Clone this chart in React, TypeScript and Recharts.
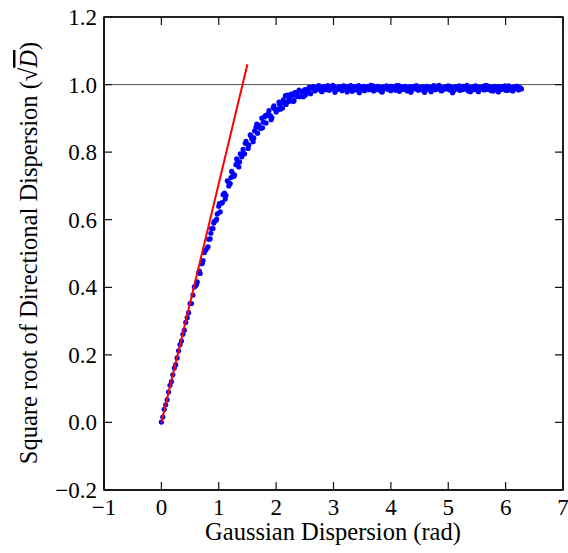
import React from "react";
import { ScatterChart, Scatter, XAxis, YAxis, ReferenceLine } from "recharts";

// Gaussian dispersion (rad) vs sqrt of directional dispersion
const riseSigma = [
  0.0, 0.025, 0.05, 0.075, 0.1, 0.125, 0.15, 0.175, 0.2, 0.225,
  0.25, 0.275, 0.3, 0.325, 0.35, 0.375, 0.4, 0.425, 0.45, 0.475,
  0.5, 0.525, 0.55, 0.575, 0.6, 0.625, 0.65, 0.675, 0.7, 0.725,
  0.75, 0.775, 0.8, 0.825, 0.85, 0.875, 0.9, 0.925, 0.95, 0.975,
  1.0, 1.025, 1.05, 1.075, 1.1, 1.125, 1.15, 1.175, 1.2, 1.225,
  1.25, 1.275, 1.3, 1.325, 1.35, 1.375, 1.4, 1.425, 1.45, 1.475,
  1.5, 1.525, 1.55, 1.575, 1.6, 1.625, 1.65, 1.675, 1.7, 1.725,
  1.75, 1.775, 1.8, 1.825, 1.85, 1.875, 1.9, 1.925, 1.95, 1.975,
  2.0, 2.025, 2.05, 2.075, 2.1, 2.125, 2.15, 2.175, 2.2, 2.225,
  2.25, 2.275, 2.3, 2.325, 2.35, 2.375, 2.4, 2.425, 2.45, 2.475,
  2.5, 2.525, 2.55, 2.575, 2.6,
];
const riseRootD = [
  0.001, 0.016, 0.039, 0.052, 0.067, 0.09, 0.11, 0.121, 0.141, 0.161,
  0.171, 0.191, 0.212, 0.23, 0.241, 0.261, 0.273, 0.296, 0.31, 0.325,
  0.352, 0.352, 0.377, 0.401, 0.405, 0.416, 0.443, 0.441, 0.47, 0.479,
  0.503, 0.51, 0.517, 0.542, 0.543, 0.574, 0.574, 0.595, 0.598, 0.617,
  0.64, 0.623, 0.649, 0.674, 0.679, 0.672, 0.715, 0.7, 0.707, 0.743,
  0.736, 0.732, 0.763, 0.768, 0.756, 0.795, 0.786, 0.808, 0.795, 0.832,
  0.823, 0.821, 0.851, 0.84, 0.831, 0.863, 0.874, 0.856, 0.879, 0.87,
  0.901, 0.889, 0.904, 0.886, 0.908, 0.923, 0.908, 0.902, 0.932, 0.928,
  0.919, 0.927, 0.948, 0.927, 0.947, 0.955, 0.947, 0.941, 0.969, 0.958,
  0.952, 0.968, 0.95, 0.976, 0.968, 0.965, 0.984, 0.965, 0.978, 0.964,
  0.985, 0.982, 0.977, 0.992, 0.973,
];

// second pass of samples in between, where the cloud is wider
const riseExtraSigma = [
  0.6125, 0.6625, 0.7125, 0.7625, 0.8125, 0.8625, 0.9125, 0.9625, 1.0125, 1.0625,
  1.1125, 1.1625, 1.2125, 1.2625, 1.3125, 1.3625, 1.4125, 1.4625, 1.5125, 1.5625,
  1.6125, 1.6625, 1.7125, 1.7625, 1.8125, 1.8625, 1.9125, 1.9625, 2.0125, 2.0625,
  2.1125, 2.1625, 2.2125, 2.2625, 2.3125, 2.3625, 2.4125, 2.4625, 2.5125, 2.5625,
];
const riseExtraRootD = [
  0.408, 0.448, 0.471, 0.51, 0.52, 0.56, 0.59, 0.602, 0.648, 0.651,
  0.661, 0.713, 0.725, 0.728, 0.78, 0.771, 0.793, 0.826, 0.811, 0.848,
  0.842, 0.883, 0.873, 0.872, 0.908, 0.913, 0.896, 0.937, 0.923, 0.941,
  0.931, 0.967, 0.95, 0.972, 0.953, 0.976, 0.964, 0.98, 0.969, 0.987,
];

const plateauSigma = [
  2.625, 2.65, 2.675, 2.7, 2.725, 2.75, 2.775, 2.8, 2.825, 2.85,
  2.875, 2.9, 2.925, 2.95, 2.975, 3.0, 3.025, 3.05, 3.075, 3.1,
  3.125, 3.15, 3.175, 3.2, 3.225, 3.25, 3.275, 3.3, 3.325, 3.35,
  3.375, 3.4, 3.425, 3.45, 3.475, 3.5, 3.525, 3.55, 3.575, 3.6,
  3.625, 3.65, 3.675, 3.7, 3.725, 3.75, 3.775, 3.8, 3.825, 3.85,
  3.875, 3.9, 3.925, 3.95, 3.975, 4.0, 4.025, 4.05, 4.075, 4.1,
  4.125, 4.15, 4.175, 4.2, 4.225, 4.25, 4.275, 4.3, 4.325, 4.35,
  4.375, 4.4, 4.425, 4.45, 4.475, 4.5, 4.525, 4.55, 4.575, 4.6,
  4.625, 4.65, 4.675, 4.7, 4.725, 4.75, 4.775, 4.8, 4.825, 4.85,
  4.875, 4.9, 4.925, 4.95, 4.975, 5.0, 5.025, 5.05, 5.075, 5.1,
  5.125, 5.15, 5.175, 5.2, 5.225, 5.25, 5.275, 5.3, 5.325, 5.35,
  5.375, 5.4, 5.425, 5.45, 5.475, 5.5, 5.525, 5.55, 5.575, 5.6,
  5.625, 5.65, 5.675, 5.7, 5.725, 5.75, 5.775, 5.8, 5.825, 5.85,
  5.875, 5.9, 5.925, 5.95, 5.975, 6.0, 6.025, 6.05, 6.075, 6.1,
  6.125, 6.15, 6.175, 6.2, 6.225, 6.25, 6.275,
];
const plateauRootD = [
  0.989, 0.994, 0.981, 0.991, 0.986, 0.996, 0.988, 0.979, 0.993, 0.99,
  0.985, 0.997, 0.983, 0.992, 0.988, 0.995, 0.977, 0.99, 0.986, 0.994,
  0.991, 0.982, 0.996, 0.987, 0.993, 0.984, 0.99, 0.997, 0.98, 0.989,
  0.994, 0.986, 0.992, 0.976, 0.991, 0.988, 0.995, 0.983, 0.99, 0.993,
  0.985, 0.998, 0.987, 0.981, 0.992, 0.989, 0.995, 0.984, 0.991, 0.978,
  0.993, 0.988, 0.996, 0.986, 0.99, 0.982, 0.994, 0.989, 0.985, 0.997,
  0.991, 0.98, 0.988, 0.993, 0.986, 0.995, 0.983, 0.99, 0.992, 0.977,
  0.989, 0.994, 0.987, 0.996, 0.984, 0.991, 0.988, 0.993, 0.981, 0.99,
  0.995, 0.986, 0.992, 0.979, 0.989, 0.997, 0.985, 0.991, 0.988, 0.994,
  0.982, 0.99, 0.986, 0.993, 0.989, 0.996, 0.984, 0.991, 0.976, 0.988,
  0.994, 0.987, 0.992, 0.983, 0.99, 0.995, 0.986, 0.989, 0.998, 0.981,
  0.991, 0.988, 0.993, 0.985, 0.996, 0.99, 0.979, 0.992, 0.987, 0.994,
  0.984, 0.99, 0.997, 0.986, 0.991, 0.982, 0.989, 0.995, 0.988, 0.993,
  0.978, 0.99, 0.986, 0.994, 0.989, 0.983, 0.992, 0.996, 0.985, 0.99,
  0.981, 0.993, 0.988, 0.995, 0.984, 0.991, 0.987,
];

const plateauExtraSigma = [
  2.6375, 2.6875, 2.7375, 2.7875, 2.8375, 2.8875, 2.9375, 2.9875, 3.0375, 3.0875,
  3.1375, 3.1875, 3.2375, 3.2875, 3.3375, 3.3875, 3.4375, 3.4875, 3.5375, 3.5875,
  3.6375, 3.6875, 3.7375, 3.7875, 3.8375, 3.8875, 3.9375, 3.9875, 4.0375, 4.0875,
  4.1375, 4.1875, 4.2375, 4.2875, 4.3375, 4.3875, 4.4375, 4.4875, 4.5375, 4.5875,
  4.6375, 4.6875, 4.7375, 4.7875, 4.8375, 4.8875, 4.9375, 4.9875, 5.0375, 5.0875,
  5.1375, 5.1875, 5.2375, 5.2875, 5.3375, 5.3875, 5.4375, 5.4875, 5.5375, 5.5875,
  5.6375, 5.6875, 5.7375, 5.7875, 5.8375, 5.8875, 5.9375, 5.9875, 6.0375, 6.0875,
  6.1375, 6.1875, 6.2375,
];
const plateauExtraRootD = [
  0.992, 0.985, 0.996, 0.98, 0.989, 0.994, 0.987, 0.998, 0.983, 0.991,
  0.986, 0.995, 0.978, 0.99, 0.993, 0.984, 0.997, 0.988, 0.982, 0.994,
  0.989, 0.996, 0.985, 0.991, 0.979, 0.993, 0.987, 0.995, 0.99, 0.983,
  0.997, 0.986, 0.992, 0.981, 0.994, 0.988, 0.996, 0.984, 0.99, 0.977,
  0.993, 0.989, 0.995, 0.986, 0.998, 0.982, 0.991, 0.987, 0.994, 0.98,
  0.992, 0.996, 0.985, 0.99, 0.993, 0.979, 0.988, 0.995, 0.984, 0.991,
  0.997, 0.986, 0.993, 0.981, 0.989, 0.994, 0.987, 0.996, 0.983, 0.991,
  0.988, 0.995, 0.99,
];

// small-angle linear approximation (red line)
const fitSigma = [0, 1.5];
const fitRootD = [0, 1.06];

const xTicks = [-1, 0, 1, 2, 3, 4, 5, 6, 7];
const yTicks = [-0.2, 0, 0.2, 0.4, 0.6, 0.8, 1.0, 1.2];
const X_DOMAIN: [number, number] = [-1, 7];
const Y_DOMAIN: [number, number] = [-0.2, 1.2];

const zip = (xs: number[], ys: number[]) => xs.map((x, i) => ({ x, y: ys[i] }));
const samples = [
  ...zip(riseSigma, riseRootD),
  ...zip(riseExtraSigma, riseExtraRootD),
  ...zip(plateauSigma, plateauRootD),
  ...zip(plateauExtraSigma, plateauExtraRootD),
];
const fitLine = zip(fitSigma, fitRootD);

const FONT = "Liberation Serif";
const TICK_FONT = 23;
const LABEL_FONT = 24.5;
const TICK_LEN = 8;
const INK = "#161616";
// plot box in pixels (set by the margins/axis sizes below)
const W = 568;
const H = 553;
const PLOT_TOP = 17;
const PLOT_BOTTOM = 490;
const PLOT_LEFT = 104;
const PLOT_RIGHT = 563;

const minus = (s: string) => s.replace("-", "\u2212");

// tick marks point inwards on all four sides, matplotlib style
const BottomTick = (p: any) => (
  <g>
    <path d={`M${p.x},${PLOT_BOTTOM}v${-TICK_LEN}M${p.x},${PLOT_TOP}v${TICK_LEN}`} stroke={INK} strokeWidth={1.2} />
    <text x={p.x} y={PLOT_BOTTOM + 25} textAnchor="middle" fontFamily={FONT} fontSize={TICK_FONT} fill="#000">
      {minus(String(p.payload.value))}
    </text>
  </g>
);
const LeftTick = (p: any) => (
  <g>
    <path d={`M${PLOT_LEFT},${p.y}h${TICK_LEN}M${PLOT_RIGHT},${p.y}h${-TICK_LEN}`} stroke={INK} strokeWidth={1.2} />
    <text x={PLOT_LEFT - 7} y={p.y + 8} textAnchor="end" fontFamily={FONT} fontSize={TICK_FONT} fill="#000">
      {minus(Number(p.payload.value).toFixed(1))}
    </text>
  </g>
);

const Dot = (p: any) => <circle cx={p.cx} cy={p.cy} r={2.6} fill="#0000ff" />;

export default function App() {
  return (
    <div style={{ position: "absolute", left: 0, top: 0, width: W, height: H }}>
      <ScatterChart width={W} height={H} margin={{ top: PLOT_TOP, right: W - PLOT_RIGHT, bottom: 0, left: 0 }}>
        <XAxis
          type="number"
          dataKey="x"
          domain={X_DOMAIN}
          ticks={xTicks}
          interval={0}
          height={H - PLOT_BOTTOM}
          tickSize={0}
          tick={BottomTick}
          stroke={INK}
          tickLine={false}
        />
        <YAxis
          type="number"
          dataKey="y"
          domain={Y_DOMAIN}
          ticks={yTicks}
          interval={0}
          width={PLOT_LEFT}
          tickSize={0}
          tick={LeftTick}
          stroke={INK}
          tickLine={false}
        />
        <ReferenceLine y={Y_DOMAIN[1]} stroke={INK} strokeWidth={1.5} ifOverflow="visible" />
        <ReferenceLine x={X_DOMAIN[1]} stroke={INK} strokeWidth={1.5} ifOverflow="visible" />
        <ReferenceLine y={Y_DOMAIN[0]} stroke={INK} strokeWidth={1.5} ifOverflow="visible" />
        <ReferenceLine x={X_DOMAIN[0]} stroke={INK} strokeWidth={1.5} ifOverflow="visible" />
        <ReferenceLine y={1} stroke="#555" strokeWidth={1} />
        <Scatter data={samples} shape={Dot} isAnimationActive={false} />
        <Scatter
          data={fitLine}
          line={{ stroke: "#ff0000", strokeWidth: 2 }}
          shape={() => <g />}
          isAnimationActive={false}
        />
      </ScatterChart>
      <svg
        width={W}
        height={H}
        style={{ position: "absolute", left: 0, top: 0, pointerEvents: "none" }}
      >
        <path
          d={`M${PLOT_LEFT},${PLOT_TOP}H${PLOT_RIGHT}V${PLOT_BOTTOM}H${PLOT_LEFT}Z`}
          fill="none"
          stroke={INK}
          strokeWidth={1.6}
        />
        <text x={333} y={540} textAnchor="middle" fontFamily={FONT} fontSize={LABEL_FONT} fill="#000">
          Gaussian Dispersion (rad)
        </text>
        <text
          x={37}
          y={253}
          transform="rotate(-90 37 253)"
          textAnchor="middle"
          fontFamily={FONT}
          fontSize={LABEL_FONT}
          fill="#000"
        >
          Square root of Directional Dispersion (√
          <tspan fontStyle="italic" style={{ textDecoration: "overline" }}>D</tspan>)
        </text>
      </svg>
    </div>
  );
}
